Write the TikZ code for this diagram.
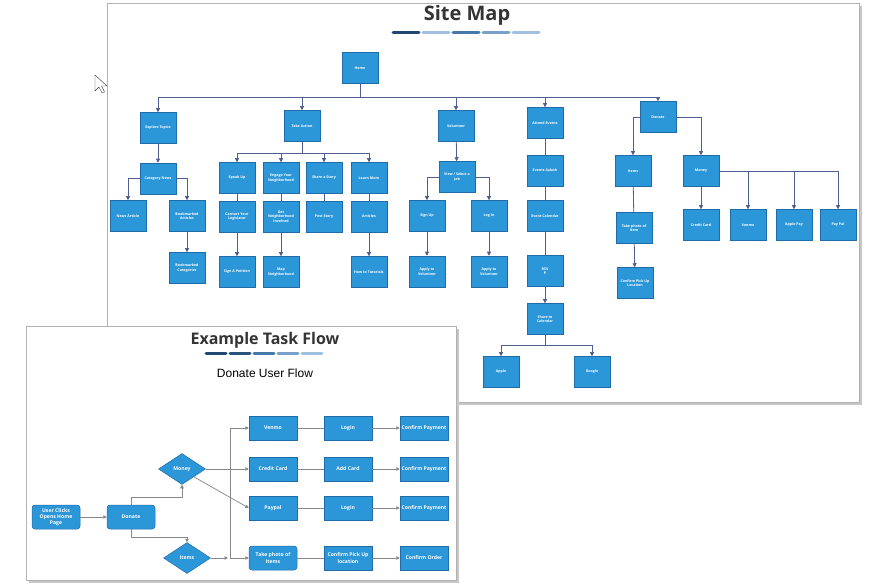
\documentclass[tikz,border=0pt]{standalone}
\usepackage{fontspec}
\setmainfont{Open Sans}
\newfontfamily\arialfont{Liberation Sans}
\usetikzlibrary{shapes.geometric, arrows.meta, positioning, calc}

\definecolor{boxblue}{RGB}{43,150,216}
\definecolor{boxedge}{RGB}{32,108,168}
\definecolor{mapline}{RGB}{78,96,146}
\definecolor{flowline}{RGB}{135,135,135}
\definecolor{titlegray}{RGB}{52,52,52}
\definecolor{bardark}{RGB}{31,73,115}
\definecolor{barmid}{RGB}{70,120,170}
\definecolor{barsoft}{RGB}{120,160,200}
\definecolor{barlight}{RGB}{160,192,224}

\begin{document}
\begin{tikzpicture}[
  x=1pt, y=-1pt,
  panel/.style={draw=black!30, fill=white, line width=0.8pt},
  shadow/.style={fill=black!22, draw=none},
  maptitle/.style={font=\fontsize{20}{22}\selectfont\bfseries, text=titlegray},
  mapbox/.style={
    draw=boxedge, fill=boxblue, text=white,
    font=\fontsize{3.6}{4.5}\selectfont\bfseries,
    align=center, inner sep=1pt, line width=0.5pt,
    minimum width=36pt, minimum height=31pt
  },
  flowbox/.style={
    draw=boxedge, fill=boxblue, text=white,
    font=\fontsize{5.1}{6.2}\selectfont\bfseries,
    align=center, inner sep=1pt, line width=0.5pt,
    minimum width=48pt, minimum height=24pt
  },
  flowround/.style={flowbox, rounded corners=3pt},
  decision/.style={
    diamond, draw=boxedge, fill=boxblue, text=white,
    font=\fontsize{5.1}{6.2}\selectfont\bfseries, inner sep=0pt, line width=0.5pt,
    minimum width=47pt, minimum height=31pt
  },
  bar/.style={line width=3pt, line cap=round},
  mline/.style={mapline, line width=0.8pt},
  marr/.style={mline, -{Triangle[length=4pt,width=4pt]}},
  fline/.style={flowline, line width=0.7pt},
  farr/.style={fline, -{Triangle[length=3.5pt,width=3.5pt]}}
]
\useasboundingbox (0,0) rectangle (871,585);

%% Site map panel
\fill[shadow] (110,6) rectangle (862,405);
\draw[panel] (107,3) rectangle (859,402);

\node[maptitle] (maptitle) at (467,15) {Site Map};
\draw[bar, bardark]  (393,33) -- (419,33);
\draw[bar, barlight] (423,33) -- (449,33);
\draw[bar, barmid]   (453,33) -- (479,33);
\draw[bar, barsoft]  (483,33) -- (509,33);
\draw[bar, barlight] (513,33) -- (539,33);

%% mouse pointer
\draw[black!80, line width=0.4pt, fill=white, line join=round]
  (95,75) -- ++(0,16) -- ++(4,-4) -- ++(3,6) -- ++(2.5,-1.2) -- ++(-3,-5.8) -- ++(5.5,0) -- cycle;

%% top level
\node[mapbox] (home) at (360,68) {Home};
\coordinate (hbus) at (0,97);

\node[mapbox] (explore)    at (158,128) {Explore Topics};
\node[mapbox] (takeaction) at (302,126) {Take Action};
\node[mapbox] (volunteer)  at (456,126) {Volunteer};
\node[mapbox] (attend)     at (545,123) {Attend Events};
\node[mapbox] (sdonate)    at (658,117) {Donate};

\draw[mline] (home.south) -- (home.south |- hbus);
\draw[mline] (explore.north |- hbus) -- (sdonate.north |- hbus);
\foreach \n in {explore, takeaction, volunteer, attend, sdonate}
  \draw[marr] (\n.north |- hbus) -- (\n.north);

%% Explore Topics
\node[mapbox, below=19pt of explore] (catnews) {Category News};
\draw[marr] (explore) -- (catnews);
\node[mapbox] (newsart) at (128,216) {News Article};
\node[mapbox] (bkart)   at (187,216) {Bookmarked\\Articles};
\node[mapbox] (bkcat)   at (187,268) {Bookmarked\\Categories};
\draw[marr] (catnews.west) -| (newsart.north);
\draw[marr] (catnews.east) -| (bkart.north);
\draw[marr] (bkart) -- (bkcat);

%% Take Action
\coordinate (tabus) at (0,153);
\node[mapbox] (speakup)    at (237,178) {Speak Up};
\node[mapbox] (engage)     at (281,178) {Engage Your\\Neighborhood};
\node[mapbox] (sharestory) at (324,178) {Share a Story};
\node[mapbox] (learnmore)  at (369,178) {Learn More};
\draw[mline] (takeaction.south) -- (takeaction.south |- tabus);
\draw[mline] (speakup.north |- tabus) -- (learnmore.north |- tabus);
\foreach \n in {speakup, engage, sharestory, learnmore}
  \draw[marr] (\n.north |- tabus) -- (\n.north);

\node[mapbox, below=7pt of speakup]    (contact)   {Contact Your\\Legislator};
\node[mapbox, below=7pt of engage]     (getinv)    {Get\\Neighborhood\\Involved};
\node[mapbox, below=7pt of sharestory] (poststory) {Post Story};
\node[mapbox, below=7pt of learnmore]  (articles)  {Articles};
\draw[mline] (speakup) -- (contact);
\draw[mline] (engage) -- (getinv);
\draw[mline] (sharestory) -- (poststory);
\draw[mline] (learnmore) -- (articles);

\node[mapbox, below=24pt of contact]  (petition)  {Sign A Petition};
\node[mapbox, below=24pt of getinv]   (mapnbhd)   {Map\\Neighborhood};
\node[mapbox, below=24pt of articles] (tutorials) {How to Tutorials};
\draw[marr] (contact) -- (petition);
\draw[marr] (getinv) -- (mapnbhd);
\draw[marr] (articles) -- (tutorials);

%% Volunteer
\node[mapbox] (viewjob) at (457,177) {View / Select a\\Job};
\draw[marr] (volunteer) -- (viewjob);
\node[mapbox] (signup) at (427,216) {Sign Up};
\node[mapbox] (login)  at (489,216) {Log In};
\draw[marr] (viewjob.west) -| (signup.north);
\draw[marr] (viewjob.east) -| (login.north);
\node[mapbox, below=24pt of signup] (apply1) {Apply to\\Volunteer};
\node[mapbox, below=24pt of login]  (apply2) {Apply to\\Volunteer};
\draw[marr] (signup) -- (apply1);
\draw[marr] (login) -- (apply2);

%% Attend Events
\node[mapbox] (splash)   at (545,171) {Events Splash};
\node[mapbox] (calendar) at (545,216) {Event Calendar};
\node[mapbox] (rsvp)     at (545,271) {RSV\\P};
\node[mapbox] (sharecal) at (545,319) {Share to\\Calendar};
\draw[mline] (attend) -- (splash);
\draw[mline] (splash) -- (calendar);
\draw[mline] (calendar) -- (rsvp);
\draw[marr] (rsvp) -- (sharecal);
\coordinate (calbus) at (0,345);
\node[mapbox] (apple)  at (501,372) {Apple};
\node[mapbox] (google) at (592,372) {Google};
\draw[mline] (sharecal.south) -- (sharecal.south |- calbus);
\draw[mline] (apple.north |- calbus) -- (google.north |- calbus);
\draw[marr] (apple.north |- calbus) -- (apple.north);
\draw[marr] (google.north |- calbus) -- (google.north);

%% Donate
\node[mapbox] (sitems) at (633,171) {Items};
\node[mapbox] (smoney) at (701,171) {Money};
\draw[marr] (sdonate.west) -| (sitems.north);
\draw[marr] (sdonate.east) -| (smoney.north);
\node[mapbox] (takephoto) at (634,228) {Take photo of\\Item};
\node[mapbox] (pickup)    at (635,283) {Confirm Pick Up\\Location};
\draw[mline] (sitems) -- (takephoto);
\draw[marr] (takephoto) -- (pickup);

\node[mapbox] (scredit)   at (701,225) {Credit Card};
\node[mapbox] (svenmo)    at (748,225) {Venmo};
\node[mapbox] (sapplepay) at (794,225) {Apple Pay};
\node[mapbox] (spaypal)   at (838,225) {Pay Pal};
\draw[marr] (smoney) -- (scredit);
\draw[marr] (smoney.east) -| (spaypal.north);
\draw[marr] (smoney.east -| svenmo) -- (svenmo.north);
\draw[marr] (smoney.east -| sapplepay) -- (sapplepay.north);

%% Task flow panel
\fill[shadow] (29,329) rectangle (459,583);
\draw[panel] (26,326) rectangle (456,580);

\node[font=\fontsize{16}{18}\selectfont\bfseries, text=titlegray] (flowtitle) at (265,340) {Example Task Flow};
\draw[bar, bardark]  (206,354) -- (226,354);
\draw[bar, bardark!80!barmid] (230,354) -- (250,354);
\draw[bar, barmid]   (254,354) -- (274,354);
\draw[bar, barsoft]  (278,354) -- (298,354);
\draw[bar, barlight] (302,354) -- (322,354);
\node[font=\arialfont\fontsize{12}{14}\selectfont] (subtitle) at (265,373) {Donate User Flow};

%% flow nodes
\node[flowround] (user)    at (56,517)  {User Clicks\\Opens Home\\Page};
\node[flowround] (fdonate) at (131,517) {Donate};
\node[decision]  (fmoney)  at (182,469) {Money};
\node[decision]  (fitems)  at (187,558) {Items};

\node[flowbox]   (fvenmo)  at (273,428) {Venmo};
\node[flowbox]   (fcredit) at (273,469) {Credit Card};
\node[flowbox]   (fpaypal) at (273,508) {Paypal};
\node[flowround] (fphoto)  at (273,558) {Take photo of\\Items};

\node[flowbox] (login1)  at (348,428) {Login};
\node[flowbox] (addcard) at (348,469) {Add Card};
\node[flowbox] (login2)  at (348,508) {Login};
\node[flowbox] (pickloc) at (348,558) {Confirm Pick Up\\location};

\node[flowbox] (conf1)     at (424,428) {Confirm Payment};
\node[flowbox] (conf2)     at (424,469) {Confirm Payment};
\node[flowbox] (conf3)     at (424,508) {Confirm Payment};
\node[flowbox] (conforder) at (424,558) {Confirm Order};

%% flow connectors
\draw[farr] (user) -- (fdonate);
\coordinate (upy) at (0,497);
\coordinate (dny) at (0,537);
\draw[farr] (fdonate.north) -- (fdonate.north |- upy) -| (fmoney.south);
\draw[farr] (fdonate.south) -- (fdonate.south |- dny) -| (fitems.north);

\coordinate (vx) at (230,0);
\draw[fline] (vx |- fvenmo) -- (vx |- fphoto);
\draw[farr] (vx |- fvenmo) -- (fvenmo.west);
\draw[farr] (fmoney.east) -- (fcredit.west);
\draw[farr] (fmoney.south east) -- (fpaypal.west);
\draw[farr] (fitems.east) -- ([xshift=-2pt]vx |- fphoto);
\draw[farr] (vx |- fphoto) -- (fphoto.west);

\draw[fline] (fvenmo) -- (login1);
\draw[fline] (fcredit) -- (addcard);
\draw[fline] (fpaypal) -- (login2);
\draw[fline] (fphoto) -- (pickloc);

\draw[farr] (login1) -- (conf1);
\draw[farr] (addcard) -- (conf2);
\draw[farr] (login2) -- (conf3);
\draw[farr] (pickloc) -- (conforder);

\end{tikzpicture}
\end{document}
